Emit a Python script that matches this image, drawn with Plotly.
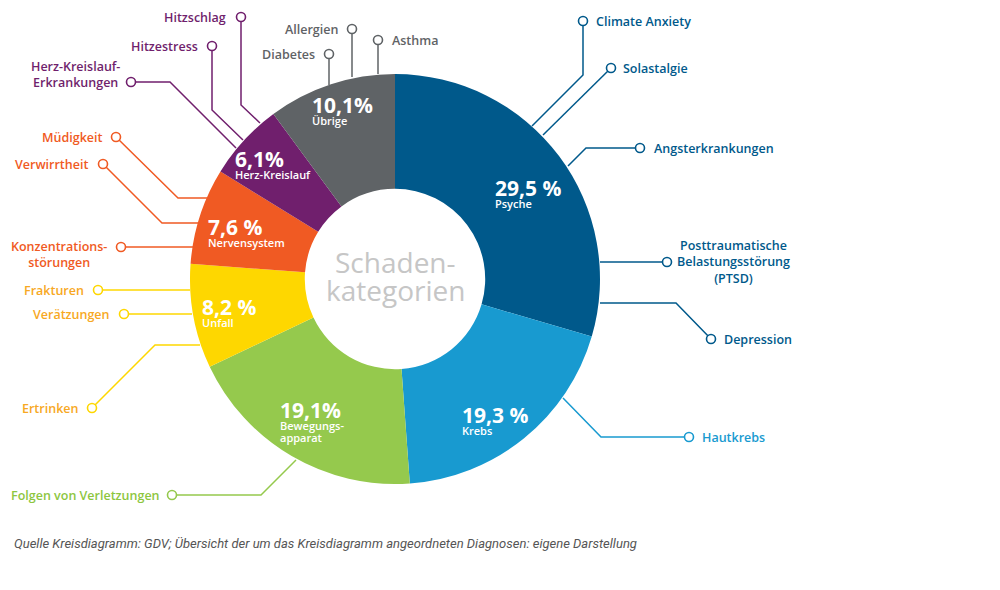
import plotly.graph_objects as go

# ---------------- data ----------------
categories = ["Psyche", "Krebs", "Bewegungs-<br>apparat", "Unfall", "Nervensystem", "Herz-Kreislauf", "Übrige"]
values = [29.5, 19.3, 19.1, 8.2, 7.6, 6.1, 10.1]
pct_labels = ["29,5 %", "19,3 %", "19,1%", "8,2 %", "7,6 %", "6,1%", "10,1%"]
slice_colors = ["#00598b", "#189ad0", "#95c94d", "#fed700", "#f05a23", "#701f6d", "#5f6366"]

# diagnoses around the chart
diag_names = ["Climate Anxiety", "Solastalgie", "Angsterkrankungen",
              "Posttraumatische<br>Belastungsstörung<br>(PTSD)", "Depression",
              "Hautkrebs", "Folgen von Verletzungen", "Ertrinken", "Verätzungen", "Frakturen",
              "Konzentrations-<br>störungen", "Verwirrtheit", "Müdigkeit",
              "Herz-Kreislauf-<br>Erkrankungen", "Hitzestress", "Hitzschlag",
              "Diabetes", "Allergien", "Asthma"]
diag_group = [0, 0, 0, 0, 0, 1, 2, 3, 3, 3, 4, 4, 4, 5, 5, 5, 6, 6, 6]

center_lines = ["Schaden-", "kategorien"]
source = "Quelle Kreisdiagramm: GDV; Übersicht der um das Kreisdiagramm angeordneten Diagnosen: eigene Darstellung"

# ---------------- styles / layout geometry ----------------
FONT = "Open Sans"
M = 8                      # page body margin
W, H = 1000 - 2 * M, 590 - 2 * M
cx, cy, R = 395, 279, 205
line_colors = slice_colors
text_colors = ["#00598b", "#189ad0", "#8dc63f", "#f7a823", "#f05a23", "#701f6d", "#5f6366"]

# callout geometry (screen pixel coords): marker point first, then path to slice
paths = [
    [(583, 21), (583, 75), (532, 126)],
    [(611, 68), (543, 135)],
    [(640, 148), (586, 148), (568, 166)],
    [(667, 262), (600, 262)],
    [(711, 339), (676, 303), (600, 303)],
    [(689, 437), (601, 437), (563, 398)],
    [(172, 495), (261, 495), (296, 460)],
    [(92, 408), (155, 345), (200, 345)],
    [(124, 314), (192, 314)],
    [(98, 290), (190, 290)],
    [(121, 247), (193, 247)],
    [(103, 164), (162, 223), (198, 223)],
    [(116, 137), (178, 198), (207, 198)],
    [(131, 82), (170, 82), (236, 148)],
    [(212, 46), (212, 110), (243, 140)],
    [(241, 17), (241, 105), (260, 123)],
    [(329, 54), (329, 85)],
    [(352, 29), (352, 77)],
    [(378, 40), (378, 74)],
]
# label anchor: (x, y, xanchor)
label_pos = [
    (594, 21, "left"), (621, 68, "left"), (652, 148, "left"),
    (733, 262, "center"), (722, 339, "left"), (700, 437, "left"),
    (162, 495, "right"), (80, 408, "right"), (112, 314, "right"), (86, 290, "right"),
    (59, 254, "center"), (90, 164, "right"), (104, 137, "right"),
    (75, 74, "center"), (200, 46, "right"), (228, 17, "right"),
    (317, 54, "right"), (340, 29, "right"), (390, 40, "left"),
]
label_align = ["left", "left", "left", "center", "left", "left", "right", "right", "right", "right",
               "center", "right", "right", "center", "right", "right", "right", "right", "left"]

# slice label positions (left edge, y of percentage)
slice_lbl_pos = [(496, 187), (463, 414), (281, 409), (203, 306), (209, 226), (236, 158), (313, 104)]

fig = go.Figure()

fig.add_trace(go.Pie(
    values=values, labels=categories, sort=False, direction="clockwise", rotation=0,
    hole=0.44, marker=dict(colors=slice_colors, line=dict(width=0)),
    textinfo="none", hoverinfo="label+value", showlegend=False,
    domain=dict(x=[(cx - R - M) / W, (cx + R - M) / W],
                y=[(H + M - cy - R) / H, (H + M - cy + R) / H]),
))

for i, pts in enumerate(paths):
    g = diag_group[i]
    xs = [p[0] for p in pts]
    ys = [p[1] for p in pts]
    fig.add_trace(go.Scatter(x=xs, y=ys, mode="lines", line=dict(color=line_colors[g], width=1.5),
                             hoverinfo="skip", showlegend=False))
for i, pts in enumerate(paths):
    g = diag_group[i]
    fig.add_trace(go.Scatter(x=[pts[0][0]], y=[pts[0][1]], mode="markers",
                             marker=dict(symbol="circle", size=9, color="white",
                                         line=dict(color=line_colors[g], width=1.6)),
                             hoverinfo="skip", showlegend=False))

annotations = []
for i, name in enumerate(diag_names):
    g = diag_group[i]
    x, y, xa = label_pos[i]
    annotations.append(dict(x=x, y=y, xref="x", yref="y", text=name, showarrow=False,
                            xanchor=xa, yanchor="middle", align=label_align[i],
                            font=dict(family=FONT, size=12.5, color=text_colors[g], weight=600)))

for i, cat in enumerate(categories):
    x, y = slice_lbl_pos[i]
    sub = "<br>".join("<span style='font-size:11px;font-weight:600'>" + s + "</span>"
                      for s in cat.split("<br>"))
    txt = "<span style='font-size:21px;font-weight:700'>" + pct_labels[i] + "</span><br>" + sub
    annotations.append(dict(x=x - 2, y=y - 14, xref="x", yref="y", text=txt,
                            showarrow=False, xanchor="left", yanchor="top", align="left",
                            borderpad=0,
                            font=dict(family=FONT, size=9.3, color="white")))

for j, (txt, yy) in enumerate(zip(center_lines, [262, 290])):
    annotations.append(dict(x=cx, y=yy, xref="x", yref="y", text=txt,
                            showarrow=False, xanchor="center", yanchor="middle",
                            font=dict(family=FONT, size=28, color="#c6c6c6")))
annotations.append(dict(x=12, y=543, xref="x", yref="y", text="<i>" + source + "</i>",
                        showarrow=False, xanchor="left", yanchor="middle",
                        font=dict(family="Roboto", size=13, color="#555555")))

fig.update_layout(
    width=W, height=H, margin=dict(l=0, r=0, t=0, b=0),
    paper_bgcolor="white", plot_bgcolor="white",
    xaxis=dict(range=[M, M + W], visible=False, fixedrange=True),
    yaxis=dict(range=[M + H, M], visible=False, fixedrange=True),
    annotations=annotations,
)

fig.write_html("out.html")
